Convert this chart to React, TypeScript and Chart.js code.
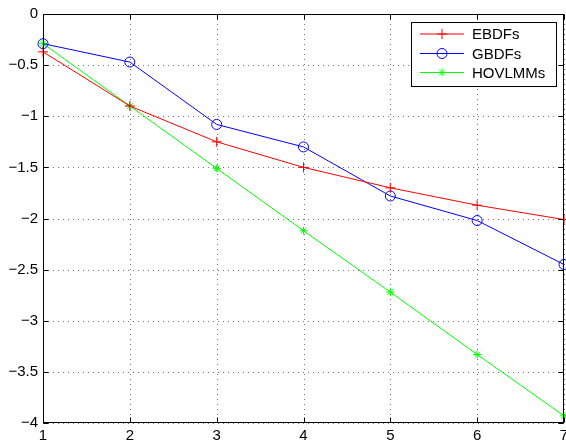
import React, { useEffect, useRef } from "react";
import { Chart, registerables } from "chart.js";

Chart.register(...registerables);

const xValues = [1, 2, 3, 4, 5, 6, 7];
const ebdfs = [-0.37, -0.9, -1.25, -1.5, -1.7, -1.87, -2.01];
const gbdfs = [-0.29, -0.47, -1.08, -1.3, -1.78, -2.02, -2.45];
const hovlmms = [-0.29, -0.9, -1.51, -2.12, -2.72, -3.33, -3.93];
const seriesNames = ["EBDFs", "GBDFs", "HOVLMMs"];
const xTicks = [1, 2, 3, 4, 5, 6, 7];
const yTicks = [0, -0.5, -1, -1.5, -2, -2.5, -3, -3.5, -4];

const FONT = "'Liberation Sans', Arial, Helvetica, sans-serif";

function fmt(v: number): string {
  const s = String(Math.abs(v));
  return v < 0 ? "\u2212" + s : s;
}

const PLOT = { left: 43, top: 14, right: 564, bottom: 423 };

const fixArea = {
  id: "fixArea",
  afterLayout(chart: any) {
    const a = chart.chartArea;
    a.left = PLOT.left;
    a.top = PLOT.top;
    a.right = PLOT.right;
    a.bottom = PLOT.bottom;
    a.width = a.right - a.left;
    a.height = a.bottom - a.top;
    const xs = chart.scales.x;
    const ys = chart.scales.y;
    xs.left = PLOT.left;
    xs.right = PLOT.right;
    xs.width = PLOT.right - PLOT.left;
    xs.top = PLOT.bottom;
    xs.bottom = PLOT.bottom + 23;
    xs.height = 23;
    xs.paddingLeft = 0;
    xs.paddingRight = 0;
    xs.configure();
    ys.top = PLOT.top;
    ys.bottom = PLOT.bottom;
    ys.height = PLOT.bottom - PLOT.top;
    ys.left = 0;
    ys.right = PLOT.left;
    ys.width = PLOT.left;
    ys.paddingTop = 0;
    ys.paddingBottom = 0;
    ys.configure();
  },
};

const matlabAxes = {
  id: "matlabAxes",
  beforeDatasetsDraw(chart: any) {
    const { ctx, chartArea: a, scales } = chart;
    const xs = scales.x;
    const ys = scales.y;
    ctx.save();
    ctx.strokeStyle = "rgba(0,0,0,0.55)";
    ctx.lineWidth = 1;
    ctx.setLineDash([1, 4]);
    xTicks.forEach((t) => {
      const px = Math.round(xs.getPixelForValue(t)) + 0.5;
      ctx.beginPath();
      ctx.moveTo(px, a.top);
      ctx.lineTo(px, a.bottom);
      ctx.stroke();
    });
    yTicks.forEach((t) => {
      const py = Math.round(ys.getPixelForValue(t)) + 0.5;
      ctx.beginPath();
      ctx.moveTo(a.left, py);
      ctx.lineTo(a.right, py);
      ctx.stroke();
    });
    ctx.restore();
  },
  afterDraw(chart: any) {
    const { ctx, chartArea: a, scales } = chart;
    const xs = scales.x;
    const ys = scales.y;
    ctx.save();
    ctx.setLineDash([]);
    ctx.strokeStyle = "#000";
    ctx.lineWidth = 1;
    const L = Math.round(a.left) + 0.5;
    const R = Math.round(a.right) - 0.5;
    const T = Math.round(a.top) + 0.5;
    const B = Math.round(a.bottom) - 0.5;
    ctx.strokeRect(L, T, R - L, B - T);
    const tl = 5;
    xTicks.forEach((t) => {
      const px = Math.round(xs.getPixelForValue(t)) + 0.5;
      ctx.beginPath();
      ctx.moveTo(px, B);
      ctx.lineTo(px, B - tl);
      ctx.moveTo(px, T);
      ctx.lineTo(px, T + tl);
      ctx.stroke();
    });
    yTicks.forEach((t) => {
      const py = Math.round(ys.getPixelForValue(t)) + 0.5;
      ctx.beginPath();
      ctx.moveTo(L, py);
      ctx.lineTo(L + tl, py);
      ctx.moveTo(R, py);
      ctx.lineTo(R - tl, py);
      ctx.stroke();
    });

    // legend
    const bx = 411.5, by = 22.5, bw = 145, bh = 64;
    ctx.fillStyle = "#fff";
    ctx.fillRect(bx, by, bw, bh);
    ctx.strokeStyle = "#000";
    ctx.strokeRect(bx, by, bw, bh);
    const rows = [34, 53.5, 72.5];
    const colors = ["#ff0000", "#0000ff", "#00ff00"];
    ctx.font = "15px " + FONT;
    ctx.textBaseline = "middle";
    ctx.textAlign = "left";
    seriesNames.forEach((name, i) => {
      const y = rows[i];
      ctx.strokeStyle = colors[i];
      ctx.lineWidth = 1;
      ctx.beginPath();
      ctx.moveTo(420, y);
      ctx.lineTo(464, y);
      ctx.stroke();
      const cx = 442;
      ctx.beginPath();
      if (i === 0) {
        ctx.moveTo(cx - 5, y);
        ctx.lineTo(cx + 5, y);
        ctx.moveTo(cx, y - 5);
        ctx.lineTo(cx, y + 5);
      } else if (i === 1) {
        ctx.arc(cx, y, 5, 0, Math.PI * 2);
      } else {
        const r = 4;
        ctx.moveTo(cx - r, y);
        ctx.lineTo(cx + r, y);
        ctx.moveTo(cx, y - r);
        ctx.lineTo(cx, y + r);
        const d = r * 0.72;
        ctx.moveTo(cx - d, y - d);
        ctx.lineTo(cx + d, y + d);
        ctx.moveTo(cx - d, y + d);
        ctx.lineTo(cx + d, y - d);
      }
      ctx.stroke();
      ctx.fillStyle = "#000";
      ctx.fillText(name, 472, y + 1);
    });
    ctx.restore();
  },
};

export default function App() {
  const ref = useRef<HTMLCanvasElement | null>(null);
  useEffect(() => {
    if (!ref.current) return;
    const mk = (vals: number[]) => vals.map((v, i) => ({ x: xValues[i], y: v }));
    const chart = new Chart(ref.current, {
      type: "line",
      data: {
        datasets: [
          {
            label: seriesNames[0],
            data: mk(ebdfs),
            borderColor: "#ff0000",
            backgroundColor: "transparent",
            borderWidth: 1,
            pointStyle: "cross",
            pointRadius: 5,
            pointBorderColor: "#ff0000",
            pointBorderWidth: 1,
            tension: 0,
            clip: false as any,
          },
          {
            label: seriesNames[1],
            data: mk(gbdfs),
            borderColor: "#0000ff",
            backgroundColor: "transparent",
            borderWidth: 1,
            pointStyle: "circle",
            pointRadius: 5,
            pointBackgroundColor: "transparent",
            pointBorderColor: "#0000ff",
            pointBorderWidth: 1,
            tension: 0,
            clip: false as any,
          },
          {
            label: seriesNames[2],
            data: mk(hovlmms),
            borderColor: "#00ff00",
            backgroundColor: "transparent",
            borderWidth: 1,
            pointStyle: "star",
            pointRadius: 4,
            pointBorderColor: "#00ff00",
            pointBorderWidth: 1,
            tension: 0,
            clip: false as any,
          },
        ],
      },
      options: {
        responsive: false,
        animation: false,
        events: [],
        layout: { padding: { left: 0, top: 14, right: 2, bottom: 0 } },
        plugins: { legend: { display: false }, tooltip: { enabled: false } },
        scales: {
          x: {
            type: "linear",
            min: 1,
            max: 7,
            grid: { display: false, drawTicks: false },
            border: { display: false },
            afterBuildTicks: (s: any) => {
              s.ticks = xTicks.map((v) => ({ value: v }));
            },
            afterFit: (s: any) => {
              s.height = 23;
              s.paddingLeft = 0;
              s.paddingRight = 0;
            },
            ticks: {
              autoSkip: false,
              maxRotation: 0,
              padding: 4,
              color: "#000",
              font: { family: FONT, size: 15 },
              callback: (v: any) => fmt(Number(v)),
            },
          },
          y: {
            type: "linear",
            min: -4,
            max: 0,
            grid: { display: false, drawTicks: false },
            border: { display: false },
            afterBuildTicks: (s: any) => {
              s.ticks = yTicks.map((v) => ({ value: v }));
            },
            afterFit: (s: any) => {
              s.width = 43;
              s.paddingTop = 0;
              s.paddingBottom = 0;
            },
            ticks: {
              autoSkip: false,
              padding: 5,
              color: "#000",
              font: { family: FONT, size: 15 },
              callback: (v: any) => fmt(Number(v)),
            },
          },
        },
      },
      plugins: [fixArea, matlabAxes],
    });
    return () => chart.destroy();
  }, []);
  return (
    <div style={{ position: "absolute", left: 0, top: 0, width: 566, height: 446, background: "#fff" }}>
      <canvas ref={ref} width={566} height={446} style={{ display: "block" }} />
    </div>
  );
}
